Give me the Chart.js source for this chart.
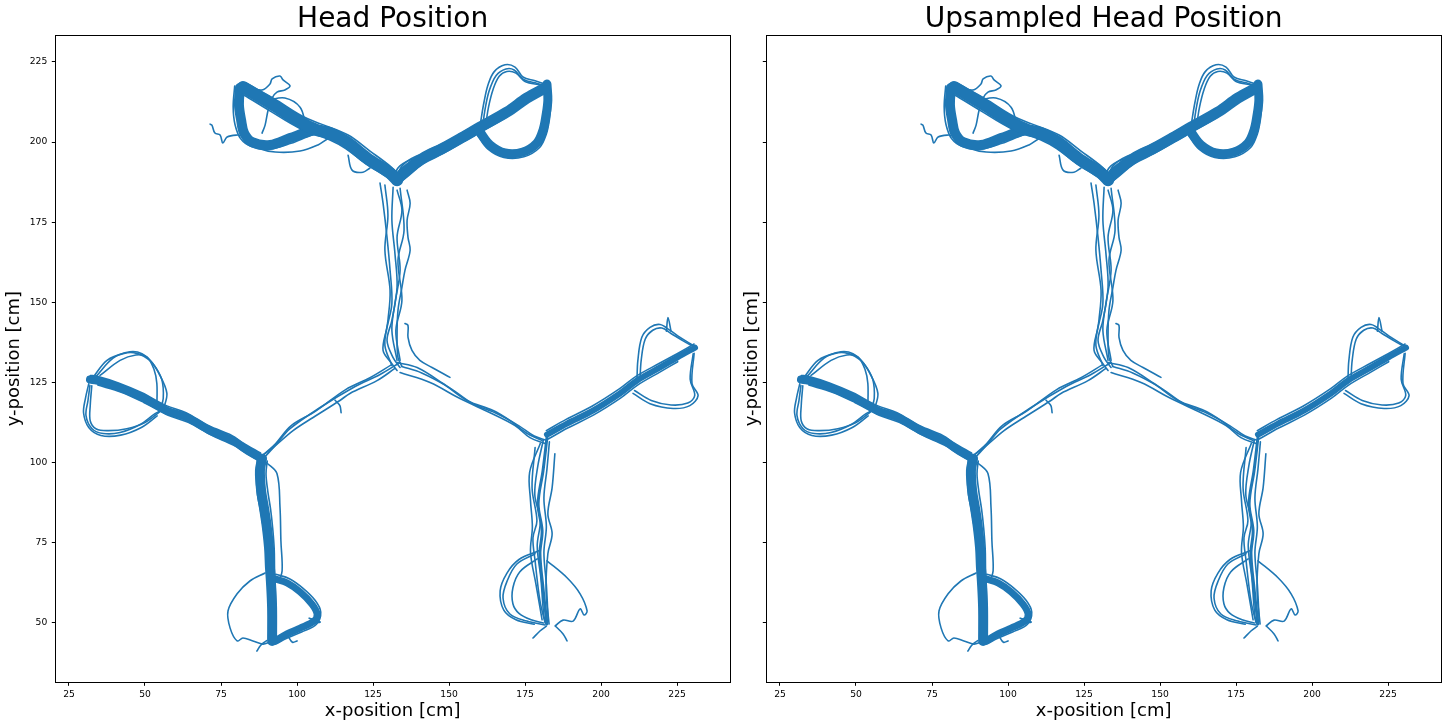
<!DOCTYPE html>
<html>
<head>
<meta charset="utf-8">
<script src="https://cdn.jsdelivr.net/npm/chart.js@4.4.1/dist/chart.umd.min.js"></script>
<style>
html,body{margin:0;padding:0;background:#fff;width:1448px;height:728px;overflow:hidden;}
#w1{position:absolute;left:0;top:0;width:740px;height:728px;}
#w2{position:absolute;left:740px;top:0;width:708px;height:728px;}
</style>
</head>
<body>
<div id="w1"><canvas id="c1" width="740" height="728"></canvas></div>
<div id="w2"><canvas id="c2" width="708" height="728"></canvas></div>
<script>
// ---- axis setup (data units, cm) ----
const X_MIN = 20.5, X_MAX = 242.4;
const Y_MIN = 31.5, Y_MAX = 233.4;
const TICK_STEP = 25;
const TITLES = ['Head Position', 'Upsampled Head Position'];
const X_LABEL = 'x-position [cm]';
const Y_LABEL = 'y-position [cm]';

// ---- trajectory pieces: [x, y] in cm ----
// top-left arm
const tlDiag = [[82.2,217.2],[87,214.5],[92.1,211.6],[101,206.25],[106.6,203.75],[110.8,202.8],[116.4,200],[123,195],[130.6,190.3],[132.9,188.1]];
const tlDiagTop = [[83,218.5],[92.5,213.5],[101.5,208.2],[108,205.6],[116.8,202.2],[124,197.2],[131,192.2],[133.5,189.6]];
const tlDiagBot = [[82,215],[91.5,209.5],[100.5,204.5],[110.5,200.8],[116,198],[122.5,193.3],[130,188.8],[132.5,186.8]];
const tlWell = [[81.2,216.9],[80.9,211.6],[81.6,206.9],[82.6,202.8],[85.2,200],[91.1,199.1],[97.7,201.25],[104.3,203.4],[107.6,203.75]];
const tlWellEdge = [[79.5,217.5],[79,211],[79.6,205.5],[81.5,201],[85,198.6],[91,197.8],[98,199.6],[105,202.2],[109,203]];
const tlLowLoop = [[85.2,199.5],[87.2,198.1],[92.8,196.9],[101,197.2],[106.9,199.1],[110.8,201.25],[114,201]];
const tlSquiggle = [[71.4,205.6],[72,205.3],[73,202.8],[74.7,202.2],[75.6,199.7],[77,201.6],[80.3,202.2],[81.9,201.9]];
const tlTendril1 = [[84.5,216.9],[88.5,216.25],[91.1,218.1],[91.8,219.7],[94.4,220.6],[95.4,219.4],[97.7,217.5],[96,216.25],[93.4,215.6],[91.8,213.75],[90.5,210],[89.5,205.3],[88.5,202.8]];
const tlTendril2 = [[90.5,213.1],[96,213.75],[101,210.9],[103,205.3],[104.3,203.75]];
const tlHook = [[116.8,195.9],[118.1,191.25],[121.7,190.6],[124,191.9]];
// top-right arm
const trDiag = [[132.9,188.1],[134.9,190.3],[141.4,195],[148,198.1],[154.6,201.6],[160.2,204.7],[169.1,209.4],[175.6,213.75],[181.6,216.9]];
const trDiagTop = [[133.5,190],[136,192.5],[142,196.8],[148.5,199.8],[155,203.3],[161,206.5],[169.5,211],[176,215.2],[181.8,218.2]];
const trDiagBot = [[132.5,186.8],[135.5,188.6],[141.5,193.2],[148,196.4],[154.5,200],[160,202.9],[168.8,207.7],[175.4,212.2],[181.4,215.5]];
const trWell = [[182.2,218.1],[182.5,213.1],[181.9,208.4],[180.9,203.75],[178.9,199.7],[174.3,196.9],[168.4,196.6],[163.5,199.1],[160.2,203.1]];
const trWellEdge = [[183.2,217],[183.5,212],[183,207],[182,202.5],[179.8,198.3],[174.6,195.4],[168,195.2],[162.8,197.8],[159.4,202]];
const trTopA = [[160.2,204.7],[160.5,206.9],[161.5,212.5],[162.8,217.8],[164.8,221.9],[168.4,224.1],[171.7,223.4],[174.3,220.3],[178.3,219.1],[181.6,218.1]];
const trTopB = [[161,204.5],[161.8,210],[163.2,216],[165.5,220.8],[168.7,222.8],[171.4,222.5],[174.5,219.5],[179,218.3],[182,217.5]];
const trTopC = [[162,205],[163,211],[164.5,216.5],[166.5,220.5],[169,222],[172,221.5],[175,218.9],[180,217.8]];
const trInner = [[162.4,206.25],[170,210.6],[178.9,214.7],[182,216]];
const trArcA = [[131.6,187.5],[133.2,191.9],[137.2,194.4],[143.8,195.6],[149.7,198.1]];
const trArcB = [[132.5,188],[134.5,192.5],[139,195.5],[145,197]];
// central stem
const stemA = [[127.3,187.2],[128.3,180.9],[129.6,170.3],[130.6,160],[131.2,149.7],[129.6,142.2],[128.3,135],[131.2,130.9],[132.9,128.75]];
const stemB = [[131.6,185.9],[131.2,175.6],[132.2,165.3],[132.9,154.7],[131.2,144.4],[129.6,138.1],[131.6,132.8],[133.9,129.7]];
const stemC = [[136.2,185],[137.2,180.9],[136.2,175.6],[136.5,170.3],[137.2,166.25],[135.5,160],[134.5,154.7],[133.2,147.5],[132.9,139.1],[133.2,132.8],[134.5,130]];
const stemD = [[132.9,185],[134.5,178.75],[132.9,170.3],[133.9,160],[132.2,149.7],[131.2,141.25],[132.9,131.9]];
const stemE = [[128.9,186.6],[129.9,177.2],[128.9,166.25],[130.6,153.75],[129.9,144.4],[128.9,136.6],[131.2,130.3]];
const stemF = [[133.9,185.6],[135.2,172.5],[133.2,163.1],[134.5,150.6],[132.5,141.25],[133.9,131.9]];
const spur = [[135.5,143.4],[136.5,142.8],[136.5,139.1],[137.8,135],[140.4,131.9],[144.4,129.7],[150.3,126.6]];
// centre -> left junction
const leftArmA = [[132.2,129.4],[126.3,125.6],[117.4,121.6],[114.1,119.4],[105.3,114.1],[98.7,110],[92.1,104.7],[88.5,102.2]];
const leftArmB = [[133.9,131.25],[127.3,127.5],[119.1,123.75],[107.6,117.2],[97.7,110.6],[92.8,105.3],[89.5,101.9]];
const leftArmC = [[131,130.5],[124,126.5],[116,122.8],[106,116],[98,111.5],[93,106],[89,102.5]];
const leftArmHook = [[112.5,119.5],[114.1,117.8],[114.5,115.6]];
// left-upper arm and well
const leftUpper = [[88.5,101.25],[82.9,104.4],[78.9,106.9],[71.4,110],[63.8,114.1],[57.2,116.25],[49.3,120.3],[41.8,123.4],[34.2,125.6],[31.9,125.9]];
const leftUpperTop = [[88,103],[82.5,106],[78.5,108.5],[71,111.5],[63.5,115.6],[57,117.8],[49,121.8],[41.5,124.8],[34,127],[32,127.2]];
const leftUpperBot = [[89,99.8],[83.4,102.8],[79.2,105.4],[71.8,108.6],[64.2,112.6],[57.6,114.8],[49.6,118.8],[42.2,122],[34.5,124.2]];
const lwUpperA = [[32.9,126.6],[37.5,131.9],[43.1,134.1],[47.3,134.1],[51.6,131.9],[54.6,127.8],[57.2,121.6],[55.9,116.25]];
const lwUpperB = [[35.2,127.2],[41.8,131.9],[47,133.6],[50.6,133],[53,129],[53.9,124.7],[53.9,117.2]];
const lwUpperC = [[34,127],[39.5,132.6],[45,134.6],[49,134],[52.5,131],[55.5,126],[56,120],[55,116.8]];
const lwLowerA = [[31.9,124.1],[31.25,119.4],[30.6,114.7],[32.6,110.6],[36.2,109.1],[41.8,109.4],[48.4,111.9],[53.3,115.3],[56.6,116.9]];
const lwLowerB = [[32.5,124],[32,118],[32,113],[34,110.5],[38,110],[44,110.6],[50,112.5],[55,116]];
const lwLowerC = [[31.5,124.6],[30.4,120],[29.8,115.5],[31.5,111],[35.5,108.5],[42,108.6],[48.8,111],[54,114.6]];
// left-lower arm and well
const leftDown = [[88.5,101.25],[87.8,97.5],[88.2,91.25],[89.1,86.1],[90.1,79.7],[90.8,73.4],[91.1,67.2],[91.4,63.1],[91.8,54.7],[91.8,44.4]];
const leftDownEdgeL = [[87,101],[86.6,96.5],[87,90],[88,85],[89,79],[89.8,72],[90.2,66],[90.6,60],[90.8,52],[90.8,44]];
const leftDownEdgeR = [[90.2,100.5],[89.8,96.5],[90.4,91],[91.3,85.5],[92,79.5],[92.5,73],[92.6,67],[92.8,62],[93,54],[93,45]];
const leftDownSide = [[90,100],[93.4,96.6],[94.4,86.1],[94.7,75.6],[95.1,66.25],[94,63]];
const leftDownLoop = [[92.75,63.75],[96.7,62.5],[101,59.7],[104.9,55.9],[106.6,52.8],[105.6,50.6],[101,48.4],[96.7,46.6],[92.75,44.4]];
const leftDownLoopEdge = [[93,65.2],[97.5,63.8],[102,60.8],[106,57],[107.8,53.4],[106.4,49.6],[101.5,47.2],[96.8,45.3],[93,43.4]];
const leftDownSpike = [[104,51.5],[107.6,50.3],[105,50]];
const leftDownStray = [[89.5,65.6],[84.5,63.1],[80.3,59.1],[77.3,53.75],[78,48.4],[80.3,44.4],[82.2,45.3],[85.5,44.4],[88.8,43.4],[91,44]];
const leftFeetA = [[86.8,41.25],[88,43],[90,44.5]];
const leftFeetB = [[97,46],[98.5,44],[100,44.4]];
// centre -> right junction
const rightArmA = [[132.9,131.25],[139.5,129.7],[148,124.7],[155.9,119.4],[164.5,116.25],[170.1,113.1],[175.7,109.1],[180.6,106.9]];
const rightArmB = [[133.9,128.1],[143.75,125],[153.6,120],[163.5,115.6],[171.7,111.6],[176.6,107.8],[181.6,106]];
const rightArmC = [[134.5,130],[141,128],[150,123.5],[158,118.3],[166,115.2],[173,111.5],[178,108.3],[182,107]];
// right-upper arm and well
const rightUpper = [[182.2,108.75],[188.8,112.2],[197.3,116.25],[206.2,121.6],[211.8,125.6],[219.4,129.7],[225,132.8],[230.9,135.9]];
const rightUpperTop = [[182,110],[188.5,113.5],[197,117.6],[206,123],[211.6,127],[219.2,131],[225,134],[230.6,137]];
const rightUpperBot = [[182.6,107.4],[189,110.8],[197.6,114.9],[206.5,120.2],[212,124.2],[219.6,128.4],[225.2,131.5]];
const rwUpperA = [[211.8,125.6],[212.1,131.9],[213.4,139.1],[216.1,142.2],[219.4,143.1],[222.7,141.25],[226,139.1],[230.2,136.6]];
const rwUpperB = [[212.8,126],[213.2,132],[214.5,138.5],[217,141.3],[220,142],[223,140.3],[227,138],[230.5,136.2]];
const rwSpike = [[221.5,141],[222,145.3],[223,141]];
const rwLowerA = [[230.6,134.1],[229.9,124.7],[231.9,120.9],[229.2,117.8],[223.7,116.9],[216.1,118.4],[210.5,121.6]];
const rwLowerB = [[230.3,134],[229.3,126],[230.8,121],[228.5,118.6],[223,118],[216.5,119.4],[211,122.5]];
// right-lower arm and well
const rightDownMain = [[182.2,107.8],[180.9,97.5],[179.3,87.2],[180.6,78.75],[179.9,71.6],[180.9,60.9],[182.2,49.7]];
const rightDownL = [[178.3,104.7],[177.3,92.2],[178.9,81.9],[177.6,76.6],[178.3,69.4],[179.9,56.9],[181.6,50]];
const rightDownR = [[184.8,102.8],[183.9,92.2],[182.5,84.1],[183.9,77.8],[182.5,71.6],[181.9,60],[182.9,49.7]];
const rightDownM2 = [[181,107],[179.2,99],[178.2,90],[180,82],[179,74],[180.2,64],[181.2,52],[182,49.5]];
const rightDownM3 = [[183,106.5],[182.2,98],[181.2,89],[182,80],[181.2,72],[182,62],[182.6,51]];
const rightDownL2 = [[180,106],[176.5,97],[176.8,88],[177.4,80],[176.8,72],[178.6,62],[180.6,51]];
const rdLoopA = [[178.3,71.6],[172.3,68.4],[169.1,63.1],[167.75,57.8],[170,52.8],[175.6,50.6],[181.6,49.4]];
const rdLoopB = [[179,70],[173.3,66],[171,61],[171,56],[173,53],[177,51],[181,50]];
const rdLoopC = [[179.5,72.5],[173,69.8],[169,65.5],[166.8,60],[168,54],[172,51],[178,49.6]];
const rdStray = [[182.2,69.4],[188.8,64.1],[193.1,59.1],[195.4,53.75],[194.4,52.5],[193.1,54.4],[190.8,50.6],[187.5,50.9],[184.9,49.1]];
const rdFeetA = [[177.6,45.3],[179.9,47.5],[182,49]];
const rdFeetB = [[188.8,44.4],[187.5,46.6],[185,49]];

// ---- drawing: piece + stroke width ----
const BLUE = '#1f77b4';
const FONT = "'DejaVu Sans', sans-serif";
const THIN = 1.6;
const pieces = [
  [tlDiag, 12], [tlDiagTop, THIN], [tlDiagBot, THIN], [tlWell, 10], [tlWellEdge, THIN], [tlLowLoop, THIN], [tlSquiggle, THIN], [tlTendril1, THIN], [tlTendril2, THIN], [tlHook, THIN],
  [trDiag, 11], [trDiagTop, THIN], [trDiagBot, THIN], [trWell, 9], [trWellEdge, THIN], [trTopA, THIN], [trTopB, THIN], [trTopC, THIN], [trInner, THIN], [trArcA, THIN], [trArcB, THIN],
  [stemA, THIN], [stemB, THIN], [stemC, THIN], [stemD, THIN], [stemE, THIN], [stemF, THIN], [spur, THIN],
  [leftArmA, THIN], [leftArmB, THIN], [leftArmC, THIN], [leftArmHook, THIN],
  [leftUpper, 8], [leftUpperTop, THIN], [leftUpperBot, THIN], [lwUpperA, THIN], [lwUpperB, THIN], [lwUpperC, THIN], [lwLowerA, THIN], [lwLowerB, THIN], [lwLowerC, THIN],
  [leftDown, 10], [leftDownEdgeL, THIN], [leftDownEdgeR, THIN], [leftDownSide, THIN], [leftDownLoop, 7], [leftDownLoopEdge, THIN], [leftDownSpike, THIN], [leftDownStray, THIN], [leftFeetA, THIN], [leftFeetB, THIN],
  [rightArmA, THIN], [rightArmB, THIN], [rightArmC, THIN],
  [rightUpper, 6], [rightUpperTop, THIN], [rightUpperBot, THIN], [rwUpperA, THIN], [rwUpperB, THIN], [rwSpike, THIN], [rwLowerA, THIN], [rwLowerB, THIN],
  [rightDownMain, 3], [rightDownL, THIN], [rightDownR, THIN], [rightDownM2, THIN], [rightDownM3, THIN], [rightDownL2, THIN],
  [rdLoopA, THIN], [rdLoopB, THIN], [rdLoopC, THIN], [rdStray, THIN], [rdFeetA, THIN], [rdFeetB, THIN]
];

const framePlugin = {
  id: 'frame',
  afterDraw(chart) {
    const {ctx, chartArea: a} = chart;
    ctx.save();
    ctx.strokeStyle = '#000';
    ctx.lineWidth = 1;
    ctx.strokeRect(Math.round(a.left) + 0.5, Math.round(a.top) + 0.5, Math.round(a.right - a.left), Math.round(a.bottom - a.top));
    ctx.restore();
  }
};

function makeChart(id, title, yWidth, padRight, yTitlePad, showYLabels) {
  return new Chart(document.getElementById(id), {
    type: 'scatter',
    data: {
      datasets: pieces.map(([pts, w]) => ({
        data: pts.map(p => ({x: p[0], y: p[1]})),
        showLine: true,
        borderColor: BLUE,
        backgroundColor: BLUE,
        borderWidth: w,
        pointRadius: 0,
        pointHoverRadius: 0,
        tension: 0.35,
        borderCapStyle: 'round',
        borderJoinStyle: 'round',
        fill: false
      }))
    },
    options: {
      responsive: false,
      animation: false,
      events: [],
      layout: { padding: { top: 0, right: padRight, bottom: 0, left: 0 } },
      plugins: {
        legend: { display: false },
        tooltip: { enabled: false },
        title: {
          display: true, text: title, fullSize: false, color: '#000',
          font: { family: FONT, size: 28, weight: 'normal', lineHeight: 31 / 28 },
          padding: { top: 4, bottom: 0 }
        }
      },
      scales: {
        x: {
          type: 'linear', min: X_MIN, max: X_MAX,
          afterFit: s => { s.height = 45.7; },
          ticks: { stepSize: TICK_STEP, includeBounds: false, autoSkip: false, maxRotation: 0, color: '#000', font: { family: FONT, size: 9.2 }, padding: 3 },
          grid: { drawOnChartArea: false, drawTicks: true, tickLength: 3.5, color: '#000', lineWidth: 1 },
          border: { display: false },
          title: { display: true, text: X_LABEL, color: '#000', font: { family: FONT, size: 18 }, padding: { top: 0, bottom: 6 } }
        },
        y: {
          type: 'linear', min: Y_MIN, max: Y_MAX,
          afterFit: s => { s.width = yWidth; },
          ticks: { display: showYLabels, stepSize: TICK_STEP, includeBounds: false, autoSkip: false, color: '#000', font: { family: FONT, size: 9.2 }, padding: 4.5 },
          grid: { drawOnChartArea: false, drawTicks: true, tickLength: 3.5, color: '#000', lineWidth: 1 },
          border: { display: false },
          title: { display: true, text: Y_LABEL, color: '#000', font: { family: FONT, size: 18 }, padding: { top: yTitlePad, bottom: 0 } }
        }
      }
    },
    plugins: [framePlugin]
  });
}

makeChart('c1', TITLES[0], 55.3, 10, 4, true);
makeChart('c2', TITLES[1], 26.3, 7, 1.5, false);
</script>
</body>
</html>
